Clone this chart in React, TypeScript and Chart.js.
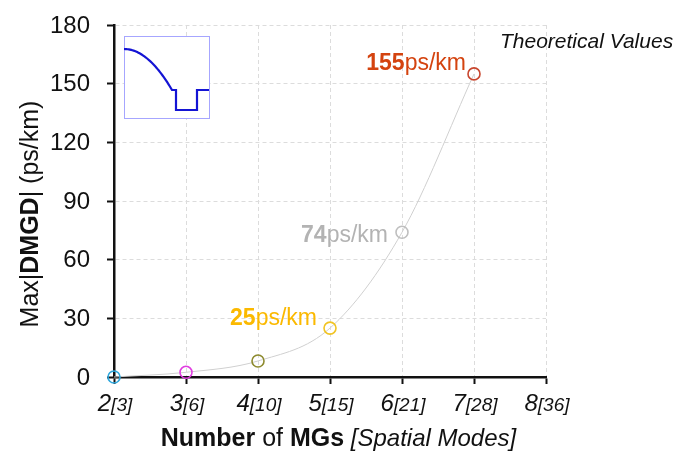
import { useEffect, useRef } from "react";
import { Chart, registerables } from "chart.js";

Chart.register(...registerables);

const FONT = '"Liberation Sans", Arial, Helvetica, sans-serif';

// Number of mode groups and the theoretical maximum |DMGD| (ps/km)
const mgCounts = [2, 3, 4, 5, 6, 7];
const maxDmgd = [0, 2.4, 8.2, 25, 74, 155];

// Axis ticks: mode groups with the spatial-mode count in brackets
const axisMgs = [2, 3, 4, 5, 6, 7, 8];
const axisModes = [3, 6, 10, 15, 21, 28, 36];
const yTicks = [0, 30, 60, 90, 120, 150, 180];

// Points that carry a value callout
const labelledPoints = [3, 4, 5];

const markerColors = ["#2ea7dd", "#e03de0", "#8d8a2e", "#f1c423", "#bfbfbf", "#c8462e"];
const calloutColors: Record<number, string> = { 3: "#fbb900", 4: "#b3b3b3", 5: "#d4430f" };
const calloutOffsets: Record<number, [number, number]> = { 3: [-13, -3], 4: [-14, 10], 5: [-8, -4] };

type Run = [string, string];

function drawRuns(
  ctx: CanvasRenderingContext2D,
  runs: Run[],
  x: number,
  y: number,
  align: "left" | "center" | "right"
) {
  const widths = runs.map(([t, f]) => {
    ctx.font = f;
    return ctx.measureText(t).width;
  });
  const total = widths.reduce((a, b) => a + b, 0);
  let cx = align === "left" ? x : align === "center" ? x - total / 2 : x - total;
  ctx.textAlign = "left";
  runs.forEach(([t, f], i) => {
    ctx.font = f;
    ctx.fillText(t, cx, y);
    cx += widths[i];
  });
}

const annotate = {
  id: "annotate",
  afterDraw(chart: any) {
    const { ctx, chartArea, scales } = chart;
    const xs = scales.x;
    const ys = scales.y;
    ctx.save();

    // y tick labels
    ctx.fillStyle = "#111";
    ctx.textBaseline = "middle";
    ctx.textAlign = "right";
    ctx.font = `24px ${FONT}`;
    yTicks.forEach((v) => ctx.fillText(String(v), chartArea.left - 24, ys.getPixelForValue(v) + 1));

    // x tick labels: "n[modes]"
    ctx.textBaseline = "alphabetic";
    axisMgs.forEach((m, i) => {
      drawRuns(
        ctx,
        [
          [String(m), `italic 24px ${FONT}`],
          [`[${axisModes[i]}]`, `italic 19px ${FONT}`],
        ],
        xs.getPixelForValue(m) + 1,
        chartArea.bottom + 34,
        "center"
      );
    });

    // x axis title
    drawRuns(
      ctx,
      [
        ["Number", `bold 25px ${FONT}`],
        [" of ", `25px ${FONT}`],
        ["MGs", `bold 25px ${FONT}`],
        [" [Spatial Modes]", `italic 24px ${FONT}`],
      ],
      chart.width / 2,
      chartArea.bottom + 69,
      "center"
    );

    // y axis title
    ctx.save();
    ctx.translate(38, (chartArea.top + chartArea.bottom) / 2 + 13);
    ctx.rotate(-Math.PI / 2);
    drawRuns(
      ctx,
      [
        ["Max|", `25px ${FONT}`],
        ["DMGD", `bold 25px ${FONT}`],
        ["| (ps/km)", `25px ${FONT}`],
      ],
      0,
      0,
      "center"
    );
    ctx.restore();

    // series caption
    ctx.font = `italic 21px ${FONT}`;
    ctx.textAlign = "left";
    ctx.fillText("Theoretical Values", chartArea.right - 46, chartArea.top + 23);

    // value callouts
    labelledPoints.forEach((i) => {
      const v = maxDmgd[i];
      const [dx, dy] = calloutOffsets[i];
      ctx.fillStyle = calloutColors[i];
      drawRuns(
        ctx,
        [
          [String(v), `bold 23px ${FONT}`],
          ["ps/km", `23px ${FONT}`],
        ],
        xs.getPixelForValue(mgCounts[i]) + dx,
        ys.getPixelForValue(v) + dy,
        "right"
      );
    });

    // inset: graded-index core with trench profile
    const bx = chartArea.left + 10;
    const by = chartArea.top + 11;
    const bw = 85;
    const bh = 82;
    ctx.fillStyle = "#ffffff";
    ctx.fillRect(bx, by, bw, bh);
    ctx.strokeStyle = "#a6a6ff";
    ctx.lineWidth = 1;
    ctx.strokeRect(bx + 0.5, by + 0.5, bw, bh);

    ctx.strokeStyle = "#1414d4";
    ctx.lineWidth = 2.2;
    ctx.beginPath();
    const coreW = 48;
    const drop = 41;
    const y0 = by + 13;
    for (let k = 0; k <= 40; k++) {
      const t = k / 40;
      const px = bx + t * coreW;
      const py = y0 + drop * t * t;
      if (k === 0) ctx.moveTo(px, py);
      else ctx.lineTo(px, py);
    }
    const clad = y0 + drop;
    ctx.lineTo(bx + 52, clad);
    ctx.lineTo(bx + 52, clad + 20);
    ctx.lineTo(bx + 73, clad + 20);
    ctx.lineTo(bx + 73, clad);
    ctx.lineTo(bx + bw, clad);
    ctx.stroke();

    ctx.restore();
  },
};

export default function App() {
  const canvasRef = useRef<HTMLCanvasElement | null>(null);

  useEffect(() => {
    const canvas = canvasRef.current;
    if (!canvas) return;

    const gridOpts = {
      color: "#dcdcdc",
      lineWidth: 1,
      drawTicks: true,
      tickLength: 7,
      tickColor: "#111",
      tickWidth: 2,
    };
    const borderOpts = { display: true, color: "#111", width: 2.5, dash: [4, 3] };

    const chart = new Chart(canvas, {
      type: "line",
      data: {
        datasets: [
          {
            data: mgCounts.map((m, i) => ({ x: m, y: maxDmgd[i] })),
            borderColor: "#d0d0d0",
            borderWidth: 1,
            cubicInterpolationMode: "monotone",
            pointRadius: 6,
            pointBorderWidth: 1.6,
            pointBackgroundColor: "rgba(255,255,255,0)",
            pointBorderColor: markerColors,
            clip: false as any,
          },
        ],
      },
      options: {
        animation: false,
        responsive: true,
        maintainAspectRatio: false,
        layout: { padding: { left: 107, right: 131, top: 25, bottom: 68 } },
        plugins: { legend: { display: false }, tooltip: { enabled: false } },
        scales: {
          x: {
            type: "linear",
            min: 2,
            max: 8,
            ticks: { display: false, stepSize: 1 },
            grid: gridOpts,
            border: borderOpts,
          },
          y: {
            type: "linear",
            min: 0,
            max: 180,
            ticks: { display: false, stepSize: 30 },
            grid: gridOpts,
            border: borderOpts,
          },
        },
      },
      plugins: [annotate],
    });

    return () => chart.destroy();
  }, []);

  return (
    <div style={{ position: "absolute", left: 0, top: 0, width: 677, height: 452, background: "#fff" }}>
      <canvas ref={canvasRef} />
    </div>
  );
}
